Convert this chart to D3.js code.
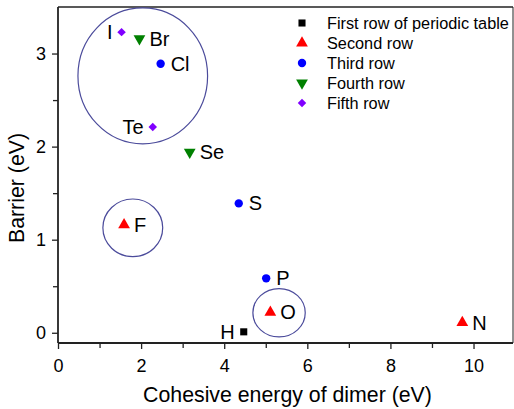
<!DOCTYPE html>
<html>
<head>
<meta charset="utf-8">
<script src="https://cdn.jsdelivr.net/npm/d3@7"></script>
<style>
  body { margin: 0; background: #fff; }
  svg { display: block; font-family: "Liberation Sans", Arial, sans-serif; }
</style>
</head>
<body>
<div id="chart"></div>
<script>
const elements = ["H", "F", "O", "N", "Cl", "S", "P", "Br", "Se", "I", "Te"];
const cohesive = [4.47, 1.59, 5.11, 9.73, 2.47, 4.35, 5.01, 1.96, 3.17, 1.53, 2.28];
const barrier  = [0.01, 1.16, 0.22, 0.11, 2.89, 1.39, 0.585, 3.16, 1.94, 3.23, 2.21];
const rowOf    = [0, 1, 1, 1, 2, 2, 2, 3, 3, 4, 4];

const rowNames = ["First row of periodic table", "Second row", "Third row", "Fourth row", "Fifth row"];
const rowColors = ["#000000", "#ff0000", "#0000ff", "#008000", "#8000ff"];
const rowSymbols = [d3.symbolSquare, d3.symbolTriangle, d3.symbolCircle, d3.symbolTriangle, d3.symbolSquare];

// highlighted groups (center x, center y, half width, half height) in data units
const groupCx = [2.04, 1.8, 5.32];
const groupCy = [2.76, 1.127, 0.215];
const groupRx = [1.56, 0.72, 0.63];
const groupRy = [0.73, 0.31, 0.26];

const leftLabels = new Set(["I", "Te", "H"]);

const xTicks = [0, 2, 4, 6, 8, 10];
const yTicks = [0, 1, 2, 3];

const W = 514, H = 409;
const margin = { top: 7, right: 1, bottom: 66, left: 58 };

const svg = d3.select("#chart").append("svg")
  .attr("width", W)
  .attr("height", H);

const x = d3.scaleLinear().domain([0, 10.95]).range([margin.left, W - margin.right]);
const y = d3.scaleLinear().domain([-0.11, 3.5]).range([H - margin.bottom, margin.top]);

// frame top/right
svg.append("line")
  .attr("x1", margin.left).attr("x2", W - margin.right)
  .attr("y1", margin.top).attr("y2", margin.top)
  .attr("stroke", "#222").attr("stroke-width", 1.5);
svg.append("line")
  .attr("x1", W - margin.right).attr("x2", W - margin.right)
  .attr("y1", margin.top).attr("y2", H - margin.bottom)
  .attr("stroke", "#222").attr("stroke-width", 1);

// minor ticks
svg.append("g").attr("transform", `translate(0,${H - margin.bottom})`)
  .call(d3.axisBottom(x).tickValues(d3.range(1, 11, 2)).tickSize(5).tickFormat(""));
svg.append("g").attr("transform", `translate(${margin.left},0)`)
  .call(d3.axisLeft(y).tickValues([0.5, 1.5, 2.5]).tickSize(5).tickFormat(""));

// major axes
svg.append("g")
  .attr("transform", `translate(0,${H - margin.bottom})`)
  .call(d3.axisBottom(x).tickValues(xTicks).tickSize(6).tickPadding(10).tickFormat(d3.format("d")));
svg.append("g")
  .attr("transform", `translate(${margin.left},0)`)
  .call(d3.axisLeft(y).tickValues(yTicks).tickSize(6).tickPadding(6).tickFormat(d3.format("d")));

svg.selectAll(".domain").remove();
svg.append("line")
  .attr("x1", margin.left).attr("x2", W - margin.right)
  .attr("y1", H - margin.bottom).attr("y2", H - margin.bottom)
  .attr("stroke", "#222").attr("stroke-width", 1.8);
svg.append("line")
  .attr("x1", margin.left).attr("x2", margin.left)
  .attr("y1", margin.top).attr("y2", H - margin.bottom)
  .attr("stroke", "#222").attr("stroke-width", 1.8);

svg.selectAll(".tick line").attr("stroke", "#222").attr("stroke-width", 1.3);
svg.selectAll(".tick text")
  .attr("fill", "#000")
  .style("font-size", "18px")
  .style("font-family", "Liberation Sans, Arial, sans-serif");

// axis titles
svg.append("text")
  .attr("x", (margin.left + W - margin.right) / 2 + 2)
  .attr("y", 402)
  .attr("text-anchor", "middle")
  .style("font-size", "21.3px")
  .text("Cohesive energy of dimer (eV)");

svg.append("text")
  .attr("transform", `translate(24,${188}) rotate(-90)`)
  .attr("text-anchor", "middle")
  .style("font-size", "21.3px")
  .text("Barrier (eV)");

// group ellipses
svg.selectAll(".group")
  .data(groupCx)
  .enter()
  .append("ellipse")
  .attr("cx", d => x(d))
  .attr("cy", (d, i) => y(groupCy[i]))
  .attr("rx", (d, i) => x(groupRx[i]) - x(0))
  .attr("ry", (d, i) => y(0) - y(groupRy[i]))
  .attr("fill", "none")
  .attr("stroke", "#4b4b9b")
  .attr("stroke-width", 1.2);

const symbolPath = (row, size) => d3.symbol().type(rowSymbols[row]).size(size)();
const symbolSize = [50, 60, 55, 60, 36];
const symbolRotate = [0, 0, 0, 180, 45];

const points = elements.map((e, i) => ({ e, cx: cohesive[i], by: barrier[i], row: rowOf[i] }));

svg.selectAll(".pt")
  .data(points)
  .enter()
  .append("path")
  .attr("d", d => symbolPath(d.row, symbolSize[d.row]))
  .attr("transform", d => `translate(${x(d.cx)},${y(d.by)}) rotate(${symbolRotate[d.row]})`)
  .attr("fill", d => rowColors[d.row]);

svg.selectAll(".lbl")
  .data(points)
  .enter()
  .append("text")
  .attr("x", d => x(d.cx) + (leftLabels.has(d.e) ? -9 : 10))
  .attr("y", d => y(d.by) + 7)
  .attr("text-anchor", d => leftLabels.has(d.e) ? "end" : "start")
  .style("font-size", "20px")
  .text(d => d.e);

// legend
const legend = svg.append("g");
rowNames.forEach((name, i) => {
  const cy = 23 + i * 20;
  legend.append("path")
    .attr("d", symbolPath(i, symbolSize[i]))
    .attr("transform", `translate(302,${cy}) rotate(${symbolRotate[i]})`)
    .attr("fill", rowColors[i]);
  legend.append("text")
    .attr("x", 327)
    .attr("y", cy + 6)
    .style("font-size", "16.3px")
    .text(name);
});
</script>
</body>
</html>
